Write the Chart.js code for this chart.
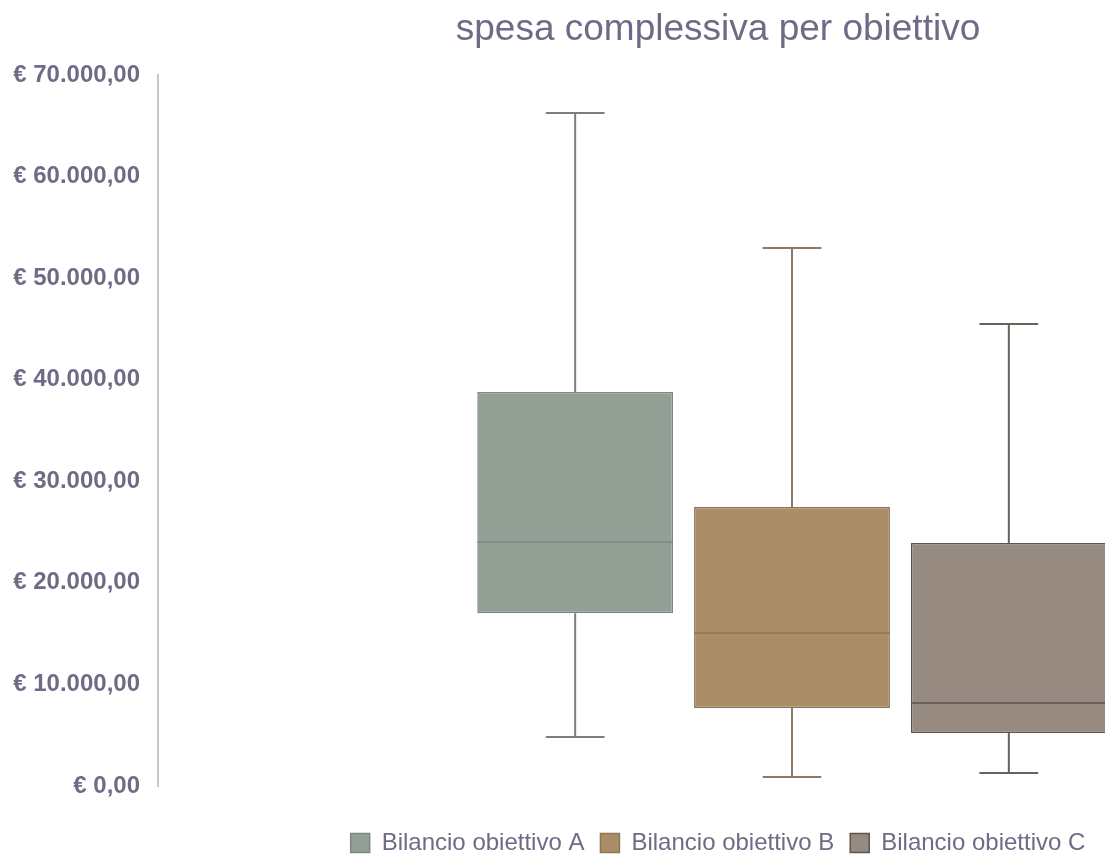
<!DOCTYPE html>
<html>
<head>
<meta charset="utf-8">
<script src="https://cdn.jsdelivr.net/npm/chart.js@4.4.1/dist/chart.umd.min.js"></script>
<style>
html,body{margin:0;padding:0;background:#fff;overflow:hidden;width:1105px;height:855px;}
#wrap{position:absolute;left:0;top:0;width:1436px;height:855px;}
</style>
</head>
<body>
<div id="wrap"><canvas id="c" width="1436" height="855"></canvas></div>
<script>
const categories = [''];
const seriesNames = ['Bilancio obiettivo A', 'Bilancio obiettivo B', 'Bilancio obiettivo C'];
const minValues    = [4820, 890, 1280];
const q1Values     = [17000, 7680, 5220];
const medianValues = [24000, 15060, 8170];
const q3Values     = [38790, 27470, 23920];
const maxValues    = [66260, 52970, 45490];
const yTicks = [0, 10000, 20000, 30000, 40000, 50000, 60000, 70000];

const fills   = ['#919f94', '#aa8d66', '#978a80'];
const borders = ['#7d8880', '#8e7555', '#5f534c'];
const whiskerColors = ['#7a7f7b', '#8a7b68', '#6a605a'];
const textColor = '#6d6c86';
const FONT = 'Liberation Sans, Arial, sans-serif';

function fmtEuro(v){
  const neg = v < 0; v = Math.abs(v);
  const parts = v.toFixed(2).split('.');
  const intPart = parts[0].replace(/\B(?=(\d{3})+(?!\d))/g, '.');
  return '€ ' + (neg ? '-' : '') + intPart + ',' + parts[1];
}

const datasets = seriesNames.map((name, i) => ({
  label: name,
  data: [[q1Values[i], q3Values[i]]],
  backgroundColor: fills[i],
  borderColor: borders[i],
  borderWidth: 1.5,
  borderSkipped: false,
  categoryPercentage: 0.513,
  barPercentage: 0.903
}));

const boxPlugin = {
  id: 'boxWhiskers',
  afterDatasetsDraw(chart){
    const ctx = chart.ctx;
    const y = chart.scales.y;
    chart.data.datasets.forEach((ds, i) => {
      const meta = chart.getDatasetMeta(i);
      if (meta.hidden) return;
      meta.data.forEach((bar) => {
        const x = bar.x;
        const w = bar.width;
        const yMin = y.getPixelForValue(minValues[i]);
        const yQ1 = y.getPixelForValue(q1Values[i]);
        const yMed = y.getPixelForValue(medianValues[i]);
        const yQ3 = y.getPixelForValue(q3Values[i]);
        const yMax = y.getPixelForValue(maxValues[i]);
        const cap = w * 0.3;
        ctx.save();
        ctx.strokeStyle = whiskerColors[i];
        ctx.lineWidth = 2;
        ctx.beginPath();
        ctx.moveTo(x, yQ3); ctx.lineTo(x, yMax);
        ctx.moveTo(x - cap/2, yMax); ctx.lineTo(x + cap/2, yMax);
        ctx.moveTo(x, yQ1); ctx.lineTo(x, yMin);
        ctx.moveTo(x - cap/2, yMin); ctx.lineTo(x + cap/2, yMin);
        ctx.stroke();
        ctx.strokeStyle = borders[i];
        ctx.lineWidth = 1.5;
        ctx.beginPath();
        ctx.moveTo(x - w/2, yMed); ctx.lineTo(x + w/2, yMed);
        ctx.stroke();
        ctx.restore();
      });
    });
  }
};

new Chart(document.getElementById('c'), {
  type: 'bar',
  data: { labels: categories, datasets: datasets },
  plugins: [boxPlugin],
  options: {
    responsive: false,
    animation: false,
    layout: { padding: { left: 10, right: 10, top: 0, bottom: -10 } },
    plugins: {
      title: {
        display: true,
        text: 'spesa complessiva per obiettivo',
        color: textColor,
        font: { family: FONT, size: 37, weight: 'normal' },
        padding: { top: 8, bottom: 22.6 }
      },
      legend: {
        position: 'bottom',
        labels: {
          color: textColor,
          font: { family: FONT, size: 24 },
          boxWidth: 19, boxHeight: 19, padding: 16
        }
      },
      tooltip: { enabled: false }
    },
    scales: {
      x: {
        display: true,
        grid: { display: false, drawTicks: false },
        border: { display: false },
        ticks: { display: false },
        afterFit(scale){ scale.height = 29; }
      },
      y: {
        min: 0, max: 70000,
        afterBuildTicks(scale){ scale.ticks = yTicks.map(v => ({ value: v })); },
        afterFit(scale){ scale.width = 148; },
        grid: { display: false, drawTicks: false },
        border: { display: true, color: '#c6c6ce', width: 2 },
        ticks: {
          color: textColor,
          padding: 18,
          font: { family: FONT, size: 24, weight: 'bold' },
          callback: (v) => fmtEuro(v)
        }
      }
    }
  }
});
</script>
</body>
</html>
